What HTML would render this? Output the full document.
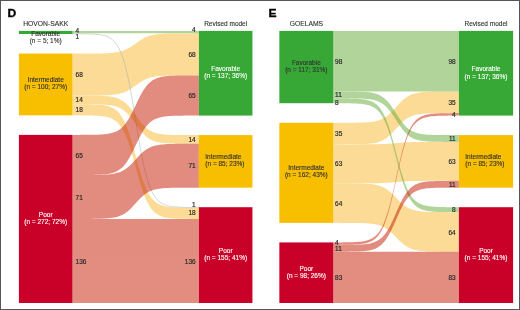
<!DOCTYPE html>
<html><head><meta charset="utf-8"><style>
html,body{margin:0;padding:0;background:#fff;}
body{width:520px;height:310px;overflow:hidden;}
svg{display:block;will-change:transform;}
text{font-family:"Liberation Sans",sans-serif;}
.n{font-size:6.5px;fill:#2a2a2a;stroke:#2a2a2a;stroke-width:0.18px;}
.l{font-size:6.5px;stroke-width:0.12px;}
.h{font-size:6.5px;fill:#333;stroke:#333;stroke-width:0.12px;}
.L{font-size:11.2px;font-weight:bold;fill:#000;stroke:#000;stroke-width:0.3px;}
</style></head><body>
<svg width="520" height="310" viewBox="0 0 520 310">
<rect x="0" y="0" width="520" height="310" fill="#fff"/>
<g style="isolation:isolate">
<g opacity="0.5" fill="#f9b92d">
<path d="M72.50,53.54 L74.61,53.54 L76.71,53.54 L78.82,53.54 L80.93,53.53 L83.03,53.53 L85.14,53.53 L87.25,53.52 L89.35,53.52 L91.46,53.51 L93.57,53.49 L95.67,53.48 L97.78,53.45 L99.89,53.42 L101.99,53.38 L104.10,53.32 L106.21,53.24 L108.31,53.14 L110.42,53.01 L112.53,52.82 L114.63,52.59 L116.74,52.27 L118.85,51.86 L120.95,51.34 L123.06,50.68 L125.17,49.86 L127.27,48.87 L129.38,47.71 L131.49,46.39 L133.59,44.96 L135.70,43.46 L137.81,41.95 L139.91,40.52 L142.02,39.20 L144.13,38.04 L146.23,37.05 L148.34,36.23 L150.45,35.57 L152.55,35.05 L154.66,34.64 L156.77,34.33 L158.87,34.09 L160.98,33.91 L163.09,33.77 L165.19,33.67 L167.30,33.59 L169.41,33.53 L171.51,33.49 L173.62,33.46 L175.73,33.44 L177.83,33.42 L179.94,33.41 L182.05,33.40 L184.15,33.39 L186.26,33.38 L188.37,33.38 L190.47,33.38 L192.58,33.38 L194.69,33.37 L196.79,33.37 L198.90,33.37 L198.90,75.40 L196.79,75.40 L194.69,75.40 L192.58,75.40 L190.47,75.40 L188.37,75.40 L186.26,75.41 L184.15,75.41 L182.05,75.42 L179.94,75.43 L177.83,75.44 L175.73,75.46 L173.62,75.48 L171.51,75.52 L169.41,75.56 L167.30,75.62 L165.19,75.69 L163.09,75.79 L160.98,75.93 L158.87,76.11 L156.77,76.35 L154.66,76.66 L152.55,77.07 L150.45,77.59 L148.34,78.26 L146.23,79.07 L144.13,80.06 L142.02,81.22 L139.91,82.54 L137.81,83.98 L135.70,85.48 L133.59,86.98 L131.49,88.42 L129.38,89.74 L127.27,90.90 L125.17,91.89 L123.06,92.70 L120.95,93.37 L118.85,93.89 L116.74,94.30 L114.63,94.61 L112.53,94.85 L110.42,95.03 L108.31,95.17 L106.21,95.27 L104.10,95.34 L101.99,95.40 L99.89,95.44 L97.78,95.48 L95.67,95.50 L93.57,95.52 L91.46,95.53 L89.35,95.54 L87.25,95.55 L85.14,95.55 L83.03,95.56 L80.93,95.56 L78.82,95.56 L76.71,95.56 L74.61,95.56 L72.50,95.56Z"/>
<path d="M72.50,95.56 L74.61,95.57 L76.71,95.57 L78.82,95.57 L80.93,95.58 L83.03,95.58 L85.14,95.59 L87.25,95.60 L89.35,95.61 L91.46,95.63 L93.57,95.66 L95.67,95.69 L97.78,95.74 L99.89,95.80 L101.99,95.88 L104.10,95.99 L106.21,96.14 L108.31,96.34 L110.42,96.61 L112.53,96.97 L114.63,97.44 L116.74,98.05 L118.85,98.85 L120.95,99.88 L123.06,101.17 L125.17,102.78 L127.27,104.72 L129.38,106.99 L131.49,109.58 L133.59,112.39 L135.70,115.34 L137.81,118.29 L139.91,121.10 L142.02,123.69 L144.13,125.96 L146.23,127.90 L148.34,129.51 L150.45,130.80 L152.55,131.83 L154.66,132.63 L156.77,133.24 L158.87,133.71 L160.98,134.07 L163.09,134.34 L165.19,134.54 L167.30,134.69 L169.41,134.80 L171.51,134.88 L173.62,134.94 L175.73,134.99 L177.83,135.02 L179.94,135.05 L182.05,135.07 L184.15,135.08 L186.26,135.09 L188.37,135.10 L190.47,135.10 L192.58,135.11 L194.69,135.11 L196.79,135.11 L198.90,135.12 L198.90,143.77 L196.79,143.77 L194.69,143.76 L192.58,143.76 L190.47,143.76 L188.37,143.75 L186.26,143.74 L184.15,143.73 L182.05,143.72 L179.94,143.70 L177.83,143.68 L175.73,143.64 L173.62,143.60 L171.51,143.53 L169.41,143.45 L167.30,143.34 L165.19,143.19 L163.09,142.99 L160.98,142.72 L158.87,142.37 L156.77,141.90 L154.66,141.28 L152.55,140.48 L150.45,139.46 L148.34,138.16 L146.23,136.56 L144.13,134.62 L142.02,132.34 L139.91,129.75 L137.81,126.94 L135.70,123.99 L133.59,121.05 L131.49,118.23 L129.38,115.65 L127.27,113.37 L125.17,111.43 L123.06,109.82 L120.95,108.53 L118.85,107.50 L116.74,106.70 L114.63,106.09 L112.53,105.62 L110.42,105.26 L108.31,105.00 L106.21,104.80 L104.10,104.65 L101.99,104.53 L99.89,104.45 L97.78,104.39 L95.67,104.34 L93.57,104.31 L91.46,104.28 L89.35,104.26 L87.25,104.25 L85.14,104.24 L83.03,104.23 L80.93,104.23 L78.82,104.22 L76.71,104.22 L74.61,104.22 L72.50,104.22Z"/>
<path d="M72.50,104.22 L74.61,104.22 L76.71,104.23 L78.82,104.23 L80.93,104.25 L83.03,104.26 L85.14,104.28 L87.25,104.31 L89.35,104.34 L91.46,104.39 L93.57,104.46 L95.67,104.55 L97.78,104.67 L99.89,104.83 L101.99,105.05 L104.10,105.34 L106.21,105.73 L108.31,106.26 L110.42,106.96 L112.53,107.89 L114.63,109.12 L116.74,110.73 L118.85,112.82 L120.95,115.51 L123.06,118.90 L125.17,123.11 L127.27,128.19 L129.38,134.16 L131.49,140.92 L133.59,148.30 L135.70,156.01 L137.81,163.73 L139.91,171.11 L142.02,177.87 L144.13,183.84 L146.23,188.92 L148.34,193.13 L150.45,196.52 L152.55,199.21 L154.66,201.30 L156.77,202.91 L158.87,204.14 L160.98,205.07 L163.09,205.77 L165.19,206.30 L167.30,206.69 L169.41,206.98 L171.51,207.20 L173.62,207.36 L175.73,207.48 L177.83,207.57 L179.94,207.64 L182.05,207.69 L184.15,207.72 L186.26,207.75 L188.37,207.77 L190.47,207.78 L192.58,207.80 L194.69,207.80 L196.79,207.81 L198.90,207.81 L198.90,218.94 L196.79,218.93 L194.69,218.93 L192.58,218.92 L190.47,218.91 L188.37,218.89 L186.26,218.87 L184.15,218.85 L182.05,218.81 L179.94,218.76 L177.83,218.69 L175.73,218.61 L173.62,218.48 L171.51,218.32 L169.41,218.10 L167.30,217.81 L165.19,217.42 L163.09,216.89 L160.98,216.19 L158.87,215.26 L156.77,214.04 L154.66,212.43 L152.55,210.33 L150.45,207.65 L148.34,204.25 L146.23,200.05 L144.13,194.96 L142.02,189.00 L139.91,182.23 L137.81,174.85 L135.70,167.14 L133.59,159.43 L131.49,152.05 L129.38,145.28 L127.27,139.31 L125.17,134.23 L123.06,130.03 L120.95,126.63 L118.85,123.95 L116.74,121.85 L114.63,120.24 L112.53,119.01 L110.42,118.08 L108.31,117.38 L106.21,116.86 L104.10,116.47 L101.99,116.17 L99.89,115.96 L97.78,115.79 L95.67,115.67 L93.57,115.58 L91.46,115.52 L89.35,115.47 L87.25,115.43 L85.14,115.40 L83.03,115.38 L80.93,115.37 L78.82,115.36 L76.71,115.35 L74.61,115.34 L72.50,115.34Z"/>
</g>
<g opacity="0.5" fill="#65ab37">
<path d="M72.50,30.90 L74.61,30.90 L76.71,30.90 L78.82,30.90 L80.93,30.90 L83.03,30.90 L85.14,30.90 L87.25,30.90 L89.35,30.90 L91.46,30.90 L93.57,30.90 L95.67,30.90 L97.78,30.90 L99.89,30.90 L101.99,30.90 L104.10,30.90 L106.21,30.90 L108.31,30.90 L110.42,30.90 L112.53,30.90 L114.63,30.90 L116.74,30.90 L118.85,30.90 L120.95,30.90 L123.06,30.90 L125.17,30.90 L127.27,30.90 L129.38,30.90 L131.49,30.90 L133.59,30.90 L135.70,30.90 L137.81,30.90 L139.91,30.90 L142.02,30.90 L144.13,30.90 L146.23,30.90 L148.34,30.90 L150.45,30.90 L152.55,30.90 L154.66,30.90 L156.77,30.90 L158.87,30.90 L160.98,30.90 L163.09,30.90 L165.19,30.90 L167.30,30.90 L169.41,30.90 L171.51,30.90 L173.62,30.90 L175.73,30.90 L177.83,30.90 L179.94,30.90 L182.05,30.90 L184.15,30.90 L186.26,30.90 L188.37,30.90 L190.47,30.90 L192.58,30.90 L194.69,30.90 L196.79,30.90 L198.90,30.90 L198.90,33.37 L196.79,33.37 L194.69,33.37 L192.58,33.37 L190.47,33.37 L188.37,33.37 L186.26,33.37 L184.15,33.37 L182.05,33.37 L179.94,33.37 L177.83,33.37 L175.73,33.37 L173.62,33.37 L171.51,33.37 L169.41,33.37 L167.30,33.37 L165.19,33.37 L163.09,33.37 L160.98,33.37 L158.87,33.37 L156.77,33.37 L154.66,33.37 L152.55,33.37 L150.45,33.37 L148.34,33.37 L146.23,33.37 L144.13,33.37 L142.02,33.37 L139.91,33.37 L137.81,33.37 L135.70,33.37 L133.59,33.37 L131.49,33.37 L129.38,33.37 L127.27,33.37 L125.17,33.37 L123.06,33.37 L120.95,33.37 L118.85,33.37 L116.74,33.37 L114.63,33.37 L112.53,33.37 L110.42,33.37 L108.31,33.37 L106.21,33.37 L104.10,33.37 L101.99,33.37 L99.89,33.37 L97.78,33.37 L95.67,33.37 L93.57,33.37 L91.46,33.37 L89.35,33.37 L87.25,33.37 L85.14,33.37 L83.03,33.37 L80.93,33.37 L78.82,33.37 L76.71,33.37 L74.61,33.37 L72.50,33.37Z"/>
</g>
<path d="M72.50,33.68 L74.61,33.69 L76.71,33.70 L78.82,33.71 L80.93,33.73 L83.03,33.76 L85.14,33.79 L87.25,33.83 L89.35,33.90 L91.46,33.98 L93.57,34.09 L95.67,34.24 L97.78,34.44 L99.89,34.71 L101.99,35.08 L104.10,35.57 L106.21,36.23 L108.31,37.11 L110.42,38.28 L112.53,39.84 L114.63,41.91 L116.74,44.61 L118.85,48.12 L120.95,52.63 L123.06,58.32 L125.17,65.38 L127.27,73.91 L129.38,83.92 L131.49,95.27 L133.59,107.65 L135.70,120.59 L137.81,133.54 L139.91,145.92 L142.02,157.27 L144.13,167.28 L146.23,175.81 L148.34,182.86 L150.45,188.56 L152.55,193.07 L154.66,196.58 L156.77,199.28 L158.87,201.34 L160.98,202.90 L163.09,204.08 L165.19,204.96 L167.30,205.62 L169.41,206.11 L171.51,206.47 L173.62,206.74 L175.73,206.95 L177.83,207.10 L179.94,207.21 L182.05,207.29 L184.15,207.35 L186.26,207.40 L188.37,207.43 L190.47,207.46 L192.58,207.47 L194.69,207.49 L196.79,207.50 L198.90,207.50" fill="none" stroke="#9db3ad" stroke-width="0.7" stroke-opacity="0.7"/>
<g opacity="0.5" fill="#c51b01">
<path d="M72.50,134.89 L74.61,134.89 L76.71,134.88 L78.82,134.88 L80.93,134.87 L83.03,134.86 L85.14,134.85 L87.25,134.84 L89.35,134.82 L91.46,134.79 L93.57,134.75 L95.67,134.70 L97.78,134.63 L99.89,134.54 L101.99,134.41 L104.10,134.24 L106.21,134.02 L108.31,133.72 L110.42,133.31 L112.53,132.78 L114.63,132.08 L116.74,131.15 L118.85,129.95 L120.95,128.41 L123.06,126.46 L125.17,124.04 L127.27,121.12 L129.38,117.70 L131.49,113.81 L133.59,109.57 L135.70,105.14 L137.81,100.71 L139.91,96.48 L142.02,92.59 L144.13,89.16 L146.23,86.24 L148.34,83.83 L150.45,81.88 L152.55,80.34 L154.66,79.14 L156.77,78.21 L158.87,77.51 L160.98,76.97 L163.09,76.57 L165.19,76.27 L167.30,76.04 L169.41,75.87 L171.51,75.75 L173.62,75.66 L175.73,75.59 L177.83,75.54 L179.94,75.50 L182.05,75.47 L184.15,75.45 L186.26,75.43 L188.37,75.42 L190.47,75.41 L192.58,75.41 L194.69,75.40 L196.79,75.40 L198.90,75.40 L198.90,115.57 L196.79,115.57 L194.69,115.57 L192.58,115.58 L190.47,115.58 L188.37,115.59 L186.26,115.60 L184.15,115.62 L182.05,115.64 L179.94,115.67 L177.83,115.71 L175.73,115.76 L173.62,115.83 L171.51,115.92 L169.41,116.04 L167.30,116.21 L165.19,116.44 L163.09,116.74 L160.98,117.14 L158.87,117.68 L156.77,118.38 L154.66,119.31 L152.55,120.51 L150.45,122.05 L148.34,124.00 L146.23,126.41 L144.13,129.33 L142.02,132.76 L139.91,136.65 L137.81,140.88 L135.70,145.31 L133.59,149.74 L131.49,153.98 L129.38,157.87 L127.27,161.29 L125.17,164.21 L123.06,166.63 L120.95,168.58 L118.85,170.12 L116.74,171.32 L114.63,172.25 L112.53,172.95 L110.42,173.48 L108.31,173.89 L106.21,174.19 L104.10,174.41 L101.99,174.58 L99.89,174.71 L97.78,174.80 L95.67,174.87 L93.57,174.92 L91.46,174.96 L89.35,174.99 L87.25,175.01 L85.14,175.02 L83.03,175.03 L80.93,175.04 L78.82,175.05 L76.71,175.05 L74.61,175.06 L72.50,175.06Z"/>
<path d="M72.50,175.06 L74.61,175.06 L76.71,175.06 L78.82,175.05 L80.93,175.05 L83.03,175.05 L85.14,175.04 L87.25,175.03 L89.35,175.02 L91.46,175.01 L93.57,174.99 L95.67,174.96 L97.78,174.92 L99.89,174.87 L101.99,174.81 L104.10,174.72 L106.21,174.60 L108.31,174.44 L110.42,174.23 L112.53,173.95 L114.63,173.58 L116.74,173.09 L118.85,172.46 L120.95,171.65 L123.06,170.62 L125.17,169.35 L127.27,167.82 L129.38,166.02 L131.49,163.97 L133.59,161.74 L135.70,159.41 L137.81,157.08 L139.91,154.85 L142.02,152.81 L144.13,151.01 L146.23,149.47 L148.34,148.20 L150.45,147.18 L152.55,146.37 L154.66,145.74 L156.77,145.25 L158.87,144.88 L160.98,144.60 L163.09,144.39 L165.19,144.23 L167.30,144.11 L169.41,144.02 L171.51,143.95 L173.62,143.90 L175.73,143.87 L177.83,143.84 L179.94,143.82 L182.05,143.81 L184.15,143.80 L186.26,143.79 L188.37,143.78 L190.47,143.78 L192.58,143.77 L194.69,143.77 L196.79,143.77 L198.90,143.77 L198.90,187.65 L196.79,187.65 L194.69,187.65 L192.58,187.65 L190.47,187.65 L188.37,187.66 L186.26,187.67 L184.15,187.67 L182.05,187.68 L179.94,187.70 L177.83,187.72 L175.73,187.75 L173.62,187.78 L171.51,187.83 L169.41,187.90 L167.30,187.99 L165.19,188.10 L163.09,188.26 L160.98,188.47 L158.87,188.76 L156.77,189.13 L154.66,189.61 L152.55,190.25 L150.45,191.06 L148.34,192.08 L146.23,193.35 L144.13,194.89 L142.02,196.69 L139.91,198.73 L137.81,200.96 L135.70,203.29 L133.59,205.62 L131.49,207.85 L129.38,209.89 L127.27,211.70 L125.17,213.23 L123.06,214.50 L120.95,215.53 L118.85,216.34 L116.74,216.97 L114.63,217.46 L112.53,217.83 L110.42,218.11 L108.31,218.32 L106.21,218.48 L104.10,218.60 L101.99,218.69 L99.89,218.75 L97.78,218.80 L95.67,218.84 L93.57,218.86 L91.46,218.88 L89.35,218.90 L87.25,218.91 L85.14,218.92 L83.03,218.92 L80.93,218.93 L78.82,218.93 L76.71,218.93 L74.61,218.94 L72.50,218.94Z"/>
<path d="M72.50,218.94 L74.61,218.94 L76.71,218.94 L78.82,218.94 L80.93,218.94 L83.03,218.94 L85.14,218.94 L87.25,218.94 L89.35,218.94 L91.46,218.94 L93.57,218.94 L95.67,218.94 L97.78,218.94 L99.89,218.94 L101.99,218.94 L104.10,218.94 L106.21,218.94 L108.31,218.94 L110.42,218.94 L112.53,218.94 L114.63,218.94 L116.74,218.94 L118.85,218.94 L120.95,218.94 L123.06,218.94 L125.17,218.94 L127.27,218.94 L129.38,218.94 L131.49,218.94 L133.59,218.94 L135.70,218.94 L137.81,218.94 L139.91,218.94 L142.02,218.94 L144.13,218.94 L146.23,218.94 L148.34,218.94 L150.45,218.94 L152.55,218.94 L154.66,218.94 L156.77,218.94 L158.87,218.94 L160.98,218.94 L163.09,218.94 L165.19,218.94 L167.30,218.94 L169.41,218.94 L171.51,218.94 L173.62,218.94 L175.73,218.94 L177.83,218.94 L179.94,218.94 L182.05,218.94 L184.15,218.94 L186.26,218.94 L188.37,218.94 L190.47,218.94 L192.58,218.94 L194.69,218.94 L196.79,218.94 L198.90,218.94 L198.90,302.99 L196.79,302.99 L194.69,302.99 L192.58,302.99 L190.47,302.99 L188.37,302.99 L186.26,302.99 L184.15,302.99 L182.05,302.99 L179.94,302.99 L177.83,302.99 L175.73,302.99 L173.62,302.99 L171.51,302.99 L169.41,302.99 L167.30,302.99 L165.19,302.99 L163.09,302.99 L160.98,302.99 L158.87,302.99 L156.77,302.99 L154.66,302.99 L152.55,302.99 L150.45,302.99 L148.34,302.99 L146.23,302.99 L144.13,302.99 L142.02,302.99 L139.91,302.99 L137.81,302.99 L135.70,302.99 L133.59,302.99 L131.49,302.99 L129.38,302.99 L127.27,302.99 L125.17,302.99 L123.06,302.99 L120.95,302.99 L118.85,302.99 L116.74,302.99 L114.63,302.99 L112.53,302.99 L110.42,302.99 L108.31,302.99 L106.21,302.99 L104.10,302.99 L101.99,302.99 L99.89,302.99 L97.78,302.99 L95.67,302.99 L93.57,302.99 L91.46,302.99 L89.35,302.99 L87.25,302.99 L85.14,302.99 L83.03,302.99 L80.93,302.99 L78.82,302.99 L76.71,302.99 L74.61,302.99 L72.50,302.99Z"/>
</g>
<rect x="18.90" y="30.90" width="53.60" height="3.09" fill="#37A836"/>
<rect x="198.90" y="30.90" width="53.55" height="84.67" fill="#37A836"/>
<rect x="18.90" y="53.54" width="53.60" height="61.80" fill="#F8BE00"/>
<rect x="198.90" y="135.12" width="53.55" height="52.53" fill="#F8BE00"/>
<rect x="18.90" y="134.89" width="53.60" height="168.10" fill="#C90027"/>
<rect x="198.90" y="207.20" width="53.55" height="95.79" fill="#C90027"/>
<text x="75.60" y="32.90" class="n">4</text>
<text x="195.70" y="31.70" class="n" text-anchor="end">4</text>
<text x="75.60" y="39.10" class="n">1</text>
<text x="195.70" y="207.00" class="n" text-anchor="end">1</text>
<text x="75.60" y="77.15" class="n">68</text>
<text x="195.70" y="56.98" class="n" text-anchor="end">68</text>
<text x="75.60" y="102.49" class="n">14</text>
<text x="195.70" y="142.04" class="n" text-anchor="end">14</text>
<text x="75.60" y="112.38" class="n">18</text>
<text x="195.70" y="214.50" class="n" text-anchor="end">18</text>
<text x="75.60" y="157.57" class="n">65</text>
<text x="195.70" y="98.08" class="n" text-anchor="end">65</text>
<text x="75.60" y="199.60" class="n">71</text>
<text x="195.70" y="168.31" class="n" text-anchor="end">71</text>
<text x="75.60" y="263.56" class="n">136</text>
<text x="195.70" y="263.56" class="n" text-anchor="end">136</text>
<text x="45.70" y="36.00" class="l" fill="#333333" stroke="#333333" text-anchor="middle">Favorable</text><text x="45.70" y="42.50" class="l" fill="#333333" stroke="#333333" text-anchor="middle">(n = 5; 1%)</text>
<text x="225.68" y="70.80" class="l" fill="#ffffff" stroke="#ffffff" text-anchor="middle">Favorable</text><text x="225.68" y="78.30" class="l" fill="#ffffff" stroke="#ffffff" text-anchor="middle">(n = 137; 36%)</text>
<text x="45.70" y="82.20" class="l" fill="#333333" stroke="#333333" text-anchor="middle">Intermediate</text><text x="45.70" y="89.30" class="l" fill="#333333" stroke="#333333" text-anchor="middle">(n = 100; 27%)</text>
<text x="205.30" y="159.40" class="l" fill="#333333" stroke="#333333" text-anchor="start">Intermediate</text><text x="205.30" y="166.30" class="l" fill="#333333" stroke="#333333" text-anchor="start">(n = 85; 23%)</text>
<text x="45.70" y="216.60" class="l" fill="#ffffff" stroke="#ffffff" text-anchor="middle">Poor</text><text x="45.70" y="224.00" class="l" fill="#ffffff" stroke="#ffffff" text-anchor="middle">(n = 272; 72%)</text>
<text x="225.68" y="252.90" class="l" fill="#ffffff" stroke="#ffffff" text-anchor="middle">Poor</text><text x="225.68" y="260.40" class="l" fill="#ffffff" stroke="#ffffff" text-anchor="middle">(n = 155; 41%)</text>
<text x="45.70" y="26" class="h" style="font-size:6.75px" text-anchor="middle">HOVON-SAKK</text>
<text x="225.68" y="26" class="h" text-anchor="middle">Revised model</text>
<text transform="translate(7.60,16.5) scale(1.08,1)" class="L">D</text>
<g opacity="0.5" fill="#f9b92d">
<path d="M333.30,122.76 L335.39,122.75 L337.49,122.75 L339.58,122.75 L341.67,122.75 L343.77,122.74 L345.86,122.74 L347.95,122.73 L350.05,122.72 L352.14,122.70 L354.23,122.68 L356.33,122.66 L358.42,122.62 L360.51,122.57 L362.61,122.50 L364.70,122.42 L366.79,122.30 L368.89,122.14 L370.98,121.93 L373.07,121.65 L375.17,121.28 L377.26,120.79 L379.35,120.16 L381.45,119.35 L383.54,118.32 L385.63,117.05 L387.73,115.51 L389.82,113.71 L391.91,111.67 L394.01,109.44 L396.10,107.11 L398.19,104.78 L400.29,102.55 L402.38,100.51 L404.47,98.71 L406.57,97.17 L408.66,95.90 L410.75,94.87 L412.85,94.06 L414.94,93.43 L417.03,92.94 L419.13,92.57 L421.22,92.29 L423.31,92.08 L425.41,91.92 L427.50,91.80 L429.59,91.72 L431.69,91.65 L433.78,91.60 L435.87,91.56 L437.97,91.54 L440.06,91.52 L442.15,91.50 L444.25,91.49 L446.34,91.48 L448.43,91.48 L450.53,91.47 L452.62,91.47 L454.71,91.47 L456.81,91.47 L458.90,91.46 L458.90,113.09 L456.81,113.10 L454.71,113.10 L452.62,113.10 L450.53,113.10 L448.43,113.11 L446.34,113.11 L444.25,113.12 L442.15,113.13 L440.06,113.15 L437.97,113.17 L435.87,113.19 L433.78,113.23 L431.69,113.28 L429.59,113.35 L427.50,113.43 L425.41,113.55 L423.31,113.71 L421.22,113.92 L419.13,114.20 L417.03,114.57 L414.94,115.06 L412.85,115.69 L410.75,116.50 L408.66,117.53 L406.57,118.80 L404.47,120.34 L402.38,122.14 L400.29,124.18 L398.19,126.41 L396.10,128.74 L394.01,131.07 L391.91,133.30 L389.82,135.34 L387.73,137.14 L385.63,138.68 L383.54,139.95 L381.45,140.98 L379.35,141.79 L377.26,142.42 L375.17,142.91 L373.07,143.28 L370.98,143.56 L368.89,143.77 L366.79,143.93 L364.70,144.05 L362.61,144.13 L360.51,144.20 L358.42,144.25 L356.33,144.29 L354.23,144.31 L352.14,144.33 L350.05,144.35 L347.95,144.36 L345.86,144.37 L343.77,144.37 L341.67,144.38 L339.58,144.38 L337.49,144.38 L335.39,144.38 L333.30,144.39Z"/>
<path d="M333.30,144.39 L335.39,144.39 L337.49,144.39 L339.58,144.39 L341.67,144.39 L343.77,144.38 L345.86,144.38 L347.95,144.38 L350.05,144.38 L352.14,144.38 L354.23,144.38 L356.33,144.38 L358.42,144.38 L360.51,144.37 L362.61,144.37 L364.70,144.36 L366.79,144.35 L368.89,144.34 L370.98,144.32 L373.07,144.30 L375.17,144.27 L377.26,144.23 L379.35,144.18 L381.45,144.12 L383.54,144.04 L385.63,143.94 L387.73,143.81 L389.82,143.67 L391.91,143.51 L394.01,143.33 L396.10,143.15 L398.19,142.97 L400.29,142.79 L402.38,142.63 L404.47,142.49 L406.57,142.36 L408.66,142.26 L410.75,142.18 L412.85,142.12 L414.94,142.07 L417.03,142.03 L419.13,142.00 L421.22,141.98 L423.31,141.96 L425.41,141.95 L427.50,141.94 L429.59,141.93 L431.69,141.93 L433.78,141.92 L435.87,141.92 L437.97,141.92 L440.06,141.92 L442.15,141.92 L444.25,141.92 L446.34,141.92 L448.43,141.92 L450.53,141.91 L452.62,141.91 L454.71,141.91 L456.81,141.91 L458.90,141.91 L458.90,180.85 L456.81,180.85 L454.71,180.85 L452.62,180.85 L450.53,180.85 L448.43,180.85 L446.34,180.85 L444.25,180.85 L442.15,180.85 L440.06,180.85 L437.97,180.85 L435.87,180.86 L433.78,180.86 L431.69,180.86 L429.59,180.87 L427.50,180.87 L425.41,180.88 L423.31,180.90 L421.22,180.91 L419.13,180.94 L417.03,180.96 L414.94,181.00 L412.85,181.05 L410.75,181.12 L408.66,181.20 L406.57,181.30 L404.47,181.42 L402.38,181.56 L400.29,181.72 L398.19,181.90 L396.10,182.08 L394.01,182.27 L391.91,182.44 L389.82,182.61 L387.73,182.75 L385.63,182.87 L383.54,182.97 L381.45,183.05 L379.35,183.11 L377.26,183.16 L375.17,183.20 L373.07,183.23 L370.98,183.25 L368.89,183.27 L366.79,183.28 L364.70,183.29 L362.61,183.30 L360.51,183.31 L358.42,183.31 L356.33,183.31 L354.23,183.31 L352.14,183.32 L350.05,183.32 L347.95,183.32 L345.86,183.32 L343.77,183.32 L341.67,183.32 L339.58,183.32 L337.49,183.32 L335.39,183.32 L333.30,183.32Z"/>
<path d="M333.30,183.32 L335.39,183.32 L337.49,183.32 L339.58,183.33 L341.67,183.33 L343.77,183.33 L345.86,183.34 L347.95,183.35 L350.05,183.36 L352.14,183.37 L354.23,183.39 L356.33,183.41 L358.42,183.45 L360.51,183.49 L362.61,183.55 L364.70,183.63 L366.79,183.74 L368.89,183.89 L370.98,184.08 L373.07,184.34 L375.17,184.68 L377.26,185.13 L379.35,185.71 L381.45,186.46 L383.54,187.41 L385.63,188.58 L387.73,189.99 L389.82,191.65 L391.91,193.53 L394.01,195.58 L396.10,197.73 L398.19,199.88 L400.29,201.93 L402.38,203.81 L404.47,205.47 L406.57,206.88 L408.66,208.05 L410.75,209.00 L412.85,209.75 L414.94,210.33 L417.03,210.78 L419.13,211.12 L421.22,211.38 L423.31,211.57 L425.41,211.72 L427.50,211.83 L429.59,211.91 L431.69,211.97 L433.78,212.01 L435.87,212.05 L437.97,212.07 L440.06,212.09 L442.15,212.10 L444.25,212.11 L446.34,212.12 L448.43,212.13 L450.53,212.13 L452.62,212.13 L454.71,212.14 L456.81,212.14 L458.90,212.14 L458.90,251.69 L456.81,251.69 L454.71,251.69 L452.62,251.69 L450.53,251.68 L448.43,251.68 L446.34,251.67 L444.25,251.67 L442.15,251.66 L440.06,251.64 L437.97,251.62 L435.87,251.60 L433.78,251.57 L431.69,251.52 L429.59,251.46 L427.50,251.38 L425.41,251.27 L423.31,251.12 L421.22,250.93 L419.13,250.67 L417.03,250.33 L414.94,249.88 L412.85,249.30 L410.75,248.55 L408.66,247.61 L406.57,246.44 L404.47,245.02 L402.38,243.36 L400.29,241.48 L398.19,239.43 L396.10,237.28 L394.01,235.14 L391.91,233.08 L389.82,231.20 L387.73,229.54 L385.63,228.13 L383.54,226.96 L381.45,226.01 L379.35,225.27 L377.26,224.68 L375.17,224.24 L373.07,223.89 L370.98,223.64 L368.89,223.44 L366.79,223.29 L364.70,223.19 L362.61,223.10 L360.51,223.04 L358.42,223.00 L356.33,222.96 L354.23,222.94 L352.14,222.92 L350.05,222.91 L347.95,222.90 L345.86,222.89 L343.77,222.88 L341.67,222.88 L339.58,222.88 L337.49,222.87 L335.39,222.87 L333.30,222.87Z"/>
</g>
<g opacity="0.5" fill="#65ab37">
<path d="M333.30,30.90 L335.39,30.90 L337.49,30.90 L339.58,30.90 L341.67,30.90 L343.77,30.90 L345.86,30.90 L347.95,30.90 L350.05,30.90 L352.14,30.90 L354.23,30.90 L356.33,30.90 L358.42,30.90 L360.51,30.90 L362.61,30.90 L364.70,30.90 L366.79,30.90 L368.89,30.90 L370.98,30.90 L373.07,30.90 L375.17,30.90 L377.26,30.90 L379.35,30.90 L381.45,30.90 L383.54,30.90 L385.63,30.90 L387.73,30.90 L389.82,30.90 L391.91,30.90 L394.01,30.90 L396.10,30.90 L398.19,30.90 L400.29,30.90 L402.38,30.90 L404.47,30.90 L406.57,30.90 L408.66,30.90 L410.75,30.90 L412.85,30.90 L414.94,30.90 L417.03,30.90 L419.13,30.90 L421.22,30.90 L423.31,30.90 L425.41,30.90 L427.50,30.90 L429.59,30.90 L431.69,30.90 L433.78,30.90 L435.87,30.90 L437.97,30.90 L440.06,30.90 L442.15,30.90 L444.25,30.90 L446.34,30.90 L448.43,30.90 L450.53,30.90 L452.62,30.90 L454.71,30.90 L456.81,30.90 L458.90,30.90 L458.90,91.46 L456.81,91.46 L454.71,91.46 L452.62,91.46 L450.53,91.46 L448.43,91.46 L446.34,91.46 L444.25,91.46 L442.15,91.46 L440.06,91.46 L437.97,91.46 L435.87,91.46 L433.78,91.46 L431.69,91.46 L429.59,91.46 L427.50,91.46 L425.41,91.46 L423.31,91.46 L421.22,91.46 L419.13,91.46 L417.03,91.46 L414.94,91.46 L412.85,91.46 L410.75,91.46 L408.66,91.46 L406.57,91.46 L404.47,91.46 L402.38,91.46 L400.29,91.46 L398.19,91.46 L396.10,91.46 L394.01,91.46 L391.91,91.46 L389.82,91.46 L387.73,91.46 L385.63,91.46 L383.54,91.46 L381.45,91.46 L379.35,91.46 L377.26,91.46 L375.17,91.46 L373.07,91.46 L370.98,91.46 L368.89,91.46 L366.79,91.46 L364.70,91.46 L362.61,91.46 L360.51,91.46 L358.42,91.46 L356.33,91.46 L354.23,91.46 L352.14,91.46 L350.05,91.46 L347.95,91.46 L345.86,91.46 L343.77,91.46 L341.67,91.46 L339.58,91.46 L337.49,91.46 L335.39,91.46 L333.30,91.46Z"/>
<path d="M333.30,91.46 L335.39,91.47 L337.49,91.47 L339.58,91.47 L341.67,91.48 L343.77,91.48 L345.86,91.49 L347.95,91.50 L350.05,91.52 L352.14,91.54 L354.23,91.57 L356.33,91.60 L358.42,91.65 L360.51,91.72 L362.61,91.82 L364.70,91.94 L366.79,92.10 L368.89,92.32 L370.98,92.62 L373.07,93.01 L375.17,93.53 L377.26,94.21 L379.35,95.09 L381.45,96.22 L383.54,97.65 L385.63,99.42 L387.73,101.57 L389.82,104.08 L391.91,106.93 L394.01,110.04 L396.10,113.29 L398.19,116.54 L400.29,119.65 L402.38,122.50 L404.47,125.01 L406.57,127.16 L408.66,128.93 L410.75,130.36 L412.85,131.49 L414.94,132.37 L417.03,133.05 L419.13,133.57 L421.22,133.96 L423.31,134.26 L425.41,134.48 L427.50,134.64 L429.59,134.76 L431.69,134.86 L433.78,134.93 L435.87,134.98 L437.97,135.01 L440.06,135.04 L442.15,135.06 L444.25,135.08 L446.34,135.09 L448.43,135.10 L450.53,135.10 L452.62,135.11 L454.71,135.11 L456.81,135.11 L458.90,135.12 L458.90,141.91 L456.81,141.91 L454.71,141.91 L452.62,141.91 L450.53,141.90 L448.43,141.90 L446.34,141.89 L444.25,141.88 L442.15,141.86 L440.06,141.84 L437.97,141.81 L435.87,141.77 L433.78,141.72 L431.69,141.65 L429.59,141.56 L427.50,141.44 L425.41,141.27 L423.31,141.05 L421.22,140.76 L419.13,140.37 L417.03,139.85 L414.94,139.17 L412.85,138.29 L410.75,137.16 L408.66,135.73 L406.57,133.95 L404.47,131.81 L402.38,129.30 L400.29,126.45 L398.19,123.34 L396.10,120.09 L394.01,116.84 L391.91,113.73 L389.82,110.88 L387.73,108.36 L385.63,106.22 L383.54,104.45 L381.45,103.02 L379.35,101.89 L377.26,101.01 L375.17,100.33 L373.07,99.81 L370.98,99.42 L368.89,99.12 L366.79,98.90 L364.70,98.74 L362.61,98.61 L360.51,98.52 L358.42,98.45 L356.33,98.40 L354.23,98.36 L352.14,98.34 L350.05,98.32 L347.95,98.30 L345.86,98.29 L343.77,98.28 L341.67,98.27 L339.58,98.27 L337.49,98.27 L335.39,98.26 L333.30,98.26Z"/>
<path d="M333.30,98.26 L335.39,98.27 L337.49,98.27 L339.58,98.28 L341.67,98.29 L343.77,98.31 L345.86,98.33 L347.95,98.36 L350.05,98.40 L352.14,98.45 L354.23,98.52 L356.33,98.61 L358.42,98.74 L360.51,98.91 L362.61,99.14 L364.70,99.45 L366.79,99.86 L368.89,100.41 L370.98,101.15 L373.07,102.12 L375.17,103.42 L377.26,105.11 L379.35,107.31 L381.45,110.14 L383.54,113.70 L385.63,118.13 L387.73,123.47 L389.82,129.74 L391.91,136.86 L394.01,144.62 L396.10,152.73 L398.19,160.84 L400.29,168.60 L402.38,175.71 L404.47,181.99 L406.57,187.33 L408.66,191.75 L410.75,195.32 L412.85,198.15 L414.94,200.35 L417.03,202.04 L419.13,203.33 L421.22,204.31 L423.31,205.05 L425.41,205.60 L427.50,206.01 L429.59,206.32 L431.69,206.55 L433.78,206.72 L435.87,206.85 L437.97,206.94 L440.06,207.01 L442.15,207.06 L444.25,207.10 L446.34,207.13 L448.43,207.15 L450.53,207.16 L452.62,207.18 L454.71,207.18 L456.81,207.19 L458.90,207.20 L458.90,212.14 L456.81,212.14 L454.71,212.13 L452.62,212.12 L450.53,212.11 L448.43,212.09 L446.34,212.07 L444.25,212.04 L442.15,212.01 L440.06,211.95 L437.97,211.88 L435.87,211.79 L433.78,211.66 L431.69,211.49 L429.59,211.26 L427.50,210.96 L425.41,210.54 L423.31,209.99 L421.22,209.26 L419.13,208.28 L417.03,206.99 L414.94,205.29 L412.85,203.09 L410.75,200.27 L408.66,196.70 L406.57,192.28 L404.47,186.93 L402.38,180.66 L400.29,173.54 L398.19,165.78 L396.10,157.67 L394.01,149.56 L391.91,141.80 L389.82,134.69 L387.73,128.41 L385.63,123.07 L383.54,118.65 L381.45,115.08 L379.35,112.26 L377.26,110.05 L375.17,108.36 L373.07,107.07 L370.98,106.09 L368.89,105.35 L366.79,104.80 L364.70,104.39 L362.61,104.08 L360.51,103.85 L358.42,103.68 L356.33,103.56 L354.23,103.46 L352.14,103.39 L350.05,103.34 L347.95,103.30 L345.86,103.27 L343.77,103.25 L341.67,103.24 L339.58,103.23 L337.49,103.22 L335.39,103.21 L333.30,103.21Z"/>
</g>
<g opacity="0.5" fill="#c51b01">
<path d="M333.30,242.42 L335.39,242.42 L337.49,242.41 L339.58,242.40 L341.67,242.38 L343.77,242.37 L345.86,242.34 L347.95,242.31 L350.05,242.26 L352.14,242.20 L354.23,242.12 L356.33,242.01 L358.42,241.86 L360.51,241.65 L362.61,241.38 L364.70,241.02 L366.79,240.53 L368.89,239.87 L370.98,239.00 L373.07,237.84 L375.17,236.30 L377.26,234.29 L379.35,231.68 L381.45,228.33 L383.54,224.09 L385.63,218.84 L387.73,212.49 L389.82,205.05 L391.91,196.60 L394.01,187.39 L396.10,177.76 L398.19,168.13 L400.29,158.92 L402.38,150.47 L404.47,143.02 L406.57,136.68 L408.66,131.43 L410.75,127.19 L412.85,123.84 L414.94,121.22 L417.03,119.21 L419.13,117.68 L421.22,116.52 L423.31,115.64 L425.41,114.99 L427.50,114.50 L429.59,114.13 L431.69,113.86 L433.78,113.66 L435.87,113.51 L437.97,113.40 L440.06,113.32 L442.15,113.25 L444.25,113.21 L446.34,113.17 L448.43,113.15 L450.53,113.13 L452.62,113.12 L454.71,113.11 L456.81,113.10 L458.90,113.09 L458.90,115.57 L456.81,115.57 L454.71,115.58 L452.62,115.59 L450.53,115.60 L448.43,115.62 L446.34,115.65 L444.25,115.68 L442.15,115.73 L440.06,115.79 L437.97,115.87 L435.87,115.98 L433.78,116.13 L431.69,116.33 L429.59,116.61 L427.50,116.97 L425.41,117.46 L423.31,118.12 L421.22,118.99 L419.13,120.15 L417.03,121.69 L414.94,123.70 L412.85,126.31 L410.75,129.66 L408.66,133.90 L406.57,139.15 L404.47,145.49 L402.38,152.94 L400.29,161.39 L398.19,170.60 L396.10,180.23 L394.01,189.86 L391.91,199.07 L389.82,207.52 L387.73,214.97 L385.63,221.31 L383.54,226.56 L381.45,230.80 L379.35,234.15 L377.26,236.76 L375.17,238.77 L373.07,240.31 L370.98,241.47 L368.89,242.34 L366.79,243.00 L364.70,243.49 L362.61,243.85 L360.51,244.13 L358.42,244.33 L356.33,244.48 L354.23,244.59 L352.14,244.67 L350.05,244.73 L347.95,244.78 L345.86,244.81 L343.77,244.84 L341.67,244.86 L339.58,244.87 L337.49,244.88 L335.39,244.89 L333.30,244.89Z"/>
<path d="M333.30,244.89 L335.39,244.89 L337.49,244.89 L339.58,244.88 L341.67,244.88 L343.77,244.87 L345.86,244.85 L347.95,244.84 L350.05,244.81 L352.14,244.78 L354.23,244.74 L356.33,244.69 L358.42,244.61 L360.51,244.51 L362.61,244.38 L364.70,244.20 L366.79,243.96 L368.89,243.63 L370.98,243.20 L373.07,242.62 L375.17,241.86 L377.26,240.87 L379.35,239.57 L381.45,237.91 L383.54,235.81 L385.63,233.22 L387.73,230.07 L389.82,226.38 L391.91,222.20 L394.01,217.64 L396.10,212.87 L398.19,208.10 L400.29,203.54 L402.38,199.36 L404.47,195.67 L406.57,192.53 L408.66,189.93 L410.75,187.83 L412.85,186.17 L414.94,184.87 L417.03,183.88 L419.13,183.12 L421.22,182.54 L423.31,182.11 L425.41,181.79 L427.50,181.54 L429.59,181.36 L431.69,181.23 L433.78,181.13 L435.87,181.05 L437.97,181.00 L440.06,180.96 L442.15,180.93 L444.25,180.90 L446.34,180.89 L448.43,180.88 L450.53,180.87 L452.62,180.86 L454.71,180.85 L456.81,180.85 L458.90,180.85 L458.90,187.65 L456.81,187.65 L454.71,187.65 L452.62,187.66 L450.53,187.66 L448.43,187.67 L446.34,187.69 L444.25,187.70 L442.15,187.73 L440.06,187.76 L437.97,187.80 L435.87,187.85 L433.78,187.93 L431.69,188.03 L429.59,188.16 L427.50,188.34 L425.41,188.58 L423.31,188.91 L421.22,189.34 L419.13,189.92 L417.03,190.68 L414.94,191.67 L412.85,192.97 L410.75,194.63 L408.66,196.73 L406.57,199.32 L404.47,202.47 L402.38,206.16 L400.29,210.34 L398.19,214.90 L396.10,219.67 L394.01,224.44 L391.91,229.00 L389.82,233.18 L387.73,236.87 L385.63,240.01 L383.54,242.61 L381.45,244.71 L379.35,246.37 L377.26,247.67 L375.17,248.66 L373.07,249.42 L370.98,250.00 L368.89,250.43 L366.79,250.75 L364.70,251.00 L362.61,251.18 L360.51,251.31 L358.42,251.41 L356.33,251.49 L354.23,251.54 L352.14,251.58 L350.05,251.61 L347.95,251.64 L345.86,251.65 L343.77,251.66 L341.67,251.67 L339.58,251.68 L337.49,251.69 L335.39,251.69 L333.30,251.69Z"/>
<path d="M333.30,251.69 L335.39,251.69 L337.49,251.69 L339.58,251.69 L341.67,251.69 L343.77,251.69 L345.86,251.69 L347.95,251.69 L350.05,251.69 L352.14,251.69 L354.23,251.69 L356.33,251.69 L358.42,251.69 L360.51,251.69 L362.61,251.69 L364.70,251.69 L366.79,251.69 L368.89,251.69 L370.98,251.69 L373.07,251.69 L375.17,251.69 L377.26,251.69 L379.35,251.69 L381.45,251.69 L383.54,251.69 L385.63,251.69 L387.73,251.69 L389.82,251.69 L391.91,251.69 L394.01,251.69 L396.10,251.69 L398.19,251.69 L400.29,251.69 L402.38,251.69 L404.47,251.69 L406.57,251.69 L408.66,251.69 L410.75,251.69 L412.85,251.69 L414.94,251.69 L417.03,251.69 L419.13,251.69 L421.22,251.69 L423.31,251.69 L425.41,251.69 L427.50,251.69 L429.59,251.69 L431.69,251.69 L433.78,251.69 L435.87,251.69 L437.97,251.69 L440.06,251.69 L442.15,251.69 L444.25,251.69 L446.34,251.69 L448.43,251.69 L450.53,251.69 L452.62,251.69 L454.71,251.69 L456.81,251.69 L458.90,251.69 L458.90,302.99 L456.81,302.99 L454.71,302.99 L452.62,302.99 L450.53,302.99 L448.43,302.99 L446.34,302.99 L444.25,302.99 L442.15,302.99 L440.06,302.99 L437.97,302.99 L435.87,302.99 L433.78,302.99 L431.69,302.99 L429.59,302.99 L427.50,302.99 L425.41,302.99 L423.31,302.99 L421.22,302.99 L419.13,302.99 L417.03,302.99 L414.94,302.99 L412.85,302.99 L410.75,302.99 L408.66,302.99 L406.57,302.99 L404.47,302.99 L402.38,302.99 L400.29,302.99 L398.19,302.99 L396.10,302.99 L394.01,302.99 L391.91,302.99 L389.82,302.99 L387.73,302.99 L385.63,302.99 L383.54,302.99 L381.45,302.99 L379.35,302.99 L377.26,302.99 L375.17,302.99 L373.07,302.99 L370.98,302.99 L368.89,302.99 L366.79,302.99 L364.70,302.99 L362.61,302.99 L360.51,302.99 L358.42,302.99 L356.33,302.99 L354.23,302.99 L352.14,302.99 L350.05,302.99 L347.95,302.99 L345.86,302.99 L343.77,302.99 L341.67,302.99 L339.58,302.99 L337.49,302.99 L335.39,302.99 L333.30,302.99Z"/>
</g>
<rect x="279.35" y="30.90" width="53.95" height="72.31" fill="#37A836"/>
<rect x="458.90" y="30.90" width="54.20" height="84.67" fill="#37A836"/>
<rect x="279.35" y="122.76" width="53.95" height="100.12" fill="#F8BE00"/>
<rect x="458.90" y="135.12" width="54.20" height="52.53" fill="#F8BE00"/>
<rect x="279.35" y="242.42" width="53.95" height="60.56" fill="#C90027"/>
<rect x="458.90" y="207.20" width="54.20" height="95.79" fill="#C90027"/>
<text x="335.10" y="63.78" class="n">98</text>
<text x="455.70" y="63.78" class="n" text-anchor="end">98</text>
<text x="335.10" y="97.46" class="n">11</text>
<text x="455.70" y="141.11" class="n" text-anchor="end">11</text>
<text x="335.10" y="104.50" class="n">8</text>
<text x="455.70" y="212.27" class="n" text-anchor="end">8</text>
<text x="335.10" y="136.17" class="n">35</text>
<text x="455.70" y="104.88" class="n" text-anchor="end">35</text>
<text x="335.10" y="166.45" class="n">63</text>
<text x="455.70" y="163.98" class="n" text-anchor="end">63</text>
<text x="335.10" y="205.70" class="n">64</text>
<text x="455.70" y="234.52" class="n" text-anchor="end">64</text>
<text x="335.10" y="244.60" class="n">4</text>
<text x="455.70" y="117.20" class="n" text-anchor="end">4</text>
<text x="335.10" y="250.50" class="n">11</text>
<text x="455.70" y="186.85" class="n" text-anchor="end">11</text>
<text x="335.10" y="279.94" class="n">83</text>
<text x="455.70" y="279.94" class="n" text-anchor="end">83</text>
<text x="306.33" y="64.70" class="l" fill="#333333" stroke="#333333" text-anchor="middle">Favorable</text><text x="306.33" y="71.70" class="l" fill="#333333" stroke="#333333" text-anchor="middle">(n = 117; 31%)</text>
<text x="486.00" y="71.10" class="l" fill="#ffffff" stroke="#ffffff" text-anchor="middle">Favorable</text><text x="486.00" y="78.60" class="l" fill="#ffffff" stroke="#ffffff" text-anchor="middle">(n = 137; 36%)</text>
<text x="306.33" y="170.20" class="l" fill="#333333" stroke="#333333" text-anchor="middle">Intermediate</text><text x="306.33" y="177.30" class="l" fill="#333333" stroke="#333333" text-anchor="middle">(n = 162; 43%)</text>
<text x="465.30" y="159.10" class="l" fill="#333333" stroke="#333333" text-anchor="start">Intermediate</text><text x="465.30" y="166.30" class="l" fill="#333333" stroke="#333333" text-anchor="start">(n = 85; 23%)</text>
<text x="306.33" y="270.70" class="l" fill="#ffffff" stroke="#ffffff" text-anchor="middle">Poor</text><text x="306.33" y="277.90" class="l" fill="#ffffff" stroke="#ffffff" text-anchor="middle">(n = 98; 26%)</text>
<text x="486.00" y="253.20" class="l" fill="#ffffff" stroke="#ffffff" text-anchor="middle">Poor</text><text x="486.00" y="260.40" class="l" fill="#ffffff" stroke="#ffffff" text-anchor="middle">(n = 155; 41%)</text>
<text x="306.33" y="26" class="h" style="font-size:6.75px" text-anchor="middle">GOELAMS</text>
<text x="486.00" y="26" class="h" text-anchor="middle">Revised model</text>
<text transform="translate(268.50,16.5) scale(1.08,1)" class="L">E</text>
</g>
<rect x="0" y="0" width="520" height="1" fill="#555"/>
<rect x="0" y="309" width="520" height="1" fill="#575757"/>
<rect x="0" y="0" width="1" height="310" fill="#555"/>
<rect x="519" y="0" width="1" height="310" fill="#50555e"/>
</svg>
</body></html>
